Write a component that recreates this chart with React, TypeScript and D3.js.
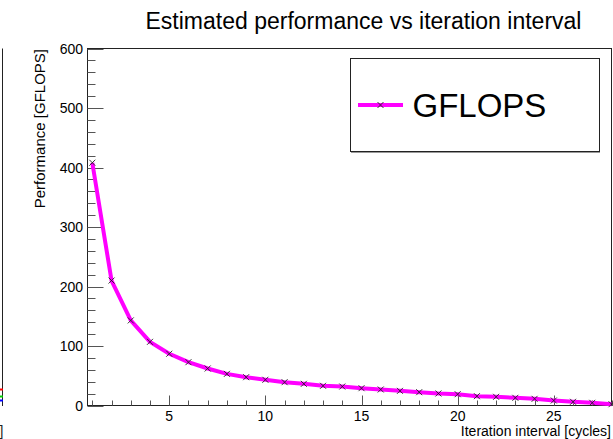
import React from "react";
import * as d3 from "d3";

// Iteration interval (cycles) and the estimated performance at each
const intervals = [1, 2, 3, 4, 5, 6, 7, 8, 9, 10, 11, 12, 13, 14, 15, 16, 17, 18, 19, 20, 21, 22, 23, 24, 25, 26, 27, 28];
const gflops = [408, 210, 143, 107, 87, 72.8, 62.2, 53.2, 47.6, 43.2, 39.2, 36.4, 33.1, 31.9, 29.1, 26.9, 24.6, 22.4, 20.2, 19.0, 15.7, 14.6, 12.9, 11.2, 8.4, 6.2, 4.5, 2.2];

const xMajorTicks = [5, 10, 15, 20, 25];
const yMajorTicks = [0, 100, 200, 300, 400, 500, 600];

const titleText = "Estimated performance vs iteration interval";
const xTitle = "Iteration interval [cycles]";
const yTitle = "Performance [GFLOPS]";
const seriesName = "GFLOPS";

const W = 613;
const H = 439;
const FONT = "'Liberation Sans', Arial, Helvetica, sans-serif";
const LINE = "#ff00ff";

export default function App() {
  const left = 87.5, right = 611.5, top = 48.5, bottom = 405.5;
  const x = d3.scaleLinear().domain([0.75, 28]).range([left, right]);
  const y = d3.scaleLinear().domain([0, 600]).range([bottom, top]);

  const pts = intervals.map((v, i) => [v, gflops[i]] as [number, number]);
  const line = d3.line<[number, number]>().x((d) => x(d[0])).y((d) => y(d[1]));

  const xMinor = d3.range(1, 29).filter((v) => v % 5 !== 0);
  const yMinor = d3.range(0, 601, 20).filter((v) => v % 100 !== 0);

  const cross = (cx: number, cy: number, key: string | number) => (
    <path
      key={key}
      d={`M${cx - 3},${cy - 3}L${cx + 3},${cy + 3}M${cx - 3},${cy + 3}L${cx + 3},${cy - 3}`}
      stroke="#222"
      strokeWidth={0.9}
      fill="none"
    />
  );

  const tickColor = "#555";

  return (
    <svg
      width={W}
      height={H}
      style={{ position: "absolute", left: 0, top: 0, background: "#fff" }}
      fontFamily={FONT}
    >
      <rect x={0} y={0} width={W} height={H} fill="#fff" />

      {/* edge of the neighbouring pad */}
      <line x1={2.5} y1={48.5} x2={2.5} y2={406} stroke="#222" strokeWidth={1} />
      <line x1={0} y1={389.5} x2={3} y2={389.5} stroke="#ff0000" strokeWidth={2} />
      <line x1={0} y1={396.5} x2={3} y2={396.5} stroke="#00cc00" strokeWidth={2} />
      <line x1={0} y1={400.5} x2={3} y2={400.5} stroke="#0000ff" strokeWidth={2} />
      <text x={3.5} y={436} fontSize={14} textAnchor="end" fill="#222">]</text>

      {/* title */}
      <text x={363.5} y={28.5} fontSize={23} textAnchor="middle" fill="#000">
        {titleText}
      </text>

      {/* frame */}
      <rect x={left} y={top} width={right - left} height={bottom - top} fill="none" stroke="#222" strokeWidth={1} />

      {/* y axis ticks */}
      {yMajorTicks.map((v) => (
        <line key={"ym" + v} x1={left} x2={left + 16} y1={Math.round(y(v)) + 0.5} y2={Math.round(y(v)) + 0.5} stroke={tickColor} />
      ))}
      {yMinor.map((v) => (
        <line key={"yn" + v} x1={left} x2={left + 8} y1={Math.round(y(v)) + 0.5} y2={Math.round(y(v)) + 0.5} stroke={tickColor} />
      ))}
      {yMajorTicks.map((v) => (
        <text key={"yl" + v} x={83} y={y(v) + 5} fontSize={14} textAnchor="end" fill="#000">
          {v}
        </text>
      ))}

      {/* x axis ticks */}
      {xMajorTicks.map((v) => (
        <line key={"xm" + v} x1={Math.round(x(v)) + 0.5} x2={Math.round(x(v)) + 0.5} y1={bottom} y2={bottom - 10} stroke={tickColor} />
      ))}
      {xMinor.map((v) => (
        <line key={"xn" + v} x1={Math.round(x(v)) + 0.5} x2={Math.round(x(v)) + 0.5} y1={bottom} y2={bottom - 5} stroke={tickColor} />
      ))}
      {xMajorTicks.map((v) => (
        <text key={"xl" + v} x={x(v)} y={421} fontSize={14} textAnchor="middle" fill="#000">
          {v}
        </text>
      ))}

      {/* axis titles */}
      <text x={611} y={436} fontSize={14} textAnchor="end" fill="#000">
        {xTitle}
      </text>
      <text transform="translate(45,49) rotate(-90)" fontSize={15} textAnchor="end" fill="#000">
        {yTitle}
      </text>

      {/* series */}
      <path d={line(pts) ?? ""} fill="none" stroke={LINE} strokeWidth={4} strokeLinejoin="round" />
      {pts.map((d, i) => cross(x(d[0]), y(d[1]), i))}

      {/* legend */}
      <line x1={351} y1={152.5} x2={600} y2={152.5} stroke="#999" strokeWidth={1} />
      <rect x={350.5} y={58.5} width={249} height={93} fill="#fff" stroke="#222" strokeWidth={1} />
      <line x1={358} y1={105} x2={403} y2={105} stroke={LINE} strokeWidth={4} />
      {cross(380.5, 105, "leg")}
      <text x={412.5} y={116.5} fontSize={33} fill="#000">
        {seriesName}
      </text>
    </svg>
  );
}
